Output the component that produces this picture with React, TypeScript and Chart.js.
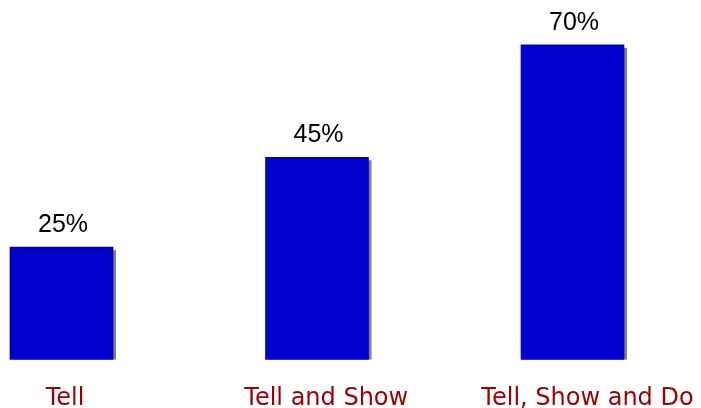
import React, { useEffect, useRef } from "react";
import { Chart, registerables } from "chart.js";

Chart.register(...registerables);

const categories: string[] = ["Tell", "Tell and Show", "Tell, Show and Do"];
const values: number[] = [25, 45, 70];
const valueLabels: string[] = ["25%", "45%", "70%"];

const BAR_COLOR = "#0000CC";
const SHADOW_COLOR = "#808080";
const CAT_COLOR = "#990000";

const decorPlugin = {
  id: "decor",
  beforeDatasetsDraw(chart: any) {
    const ctx = chart.ctx;
    const meta = chart.getDatasetMeta(0);
    ctx.save();
    ctx.fillStyle = SHADOW_COLOR;
    meta.data.forEach((bar: any) => {
      const { x, y, base, width } = bar.getProps(["x", "y", "base", "width"], true);
      ctx.fillRect(x - width / 2 + 3, y + 3, width, base - y - 3);
    });
    ctx.restore();
  },
  afterDatasetsDraw(chart: any) {
    const ctx = chart.ctx;
    const meta = chart.getDatasetMeta(0);
    ctx.save();
    ctx.fillStyle = "#000000";
    ctx.font = '25px "Liberation Sans", Arial, sans-serif';
    ctx.textAlign = "center";
    ctx.textBaseline = "alphabetic";
    meta.data.forEach((bar: any, i: number) => {
      const { x, y } = bar.getProps(["x", "y"], true);
      ctx.fillText(valueLabels[i], x + 1.5, y - 15);
    });
    ctx.restore();
  },
};

export default function App() {
  const canvasRef = useRef<HTMLCanvasElement | null>(null);

  useEffect(() => {
    document.body.style.margin = "0";
    const canvas = canvasRef.current;
    if (!canvas) return;
    const chart = new Chart(canvas, {
      type: "bar",
      data: {
        datasets: [
          {
            data: values.map((v, i) => ({ x: i, y: v })),
            backgroundColor: BAR_COLOR,
            borderWidth: 0,
            barThickness: 103,
            clip: false as any,
            xAxisID: "x",
            yAxisID: "y",
          },
        ],
      },
      options: {
        animation: false,
        responsive: false,
        maintainAspectRatio: false,
        devicePixelRatio: 1,
        layout: { padding: { left: 65, right: 113.5, top: 0, bottom: 0 } },
        plugins: {
          legend: { display: false },
          tooltip: { enabled: false },
        },
        scales: {
          x: {
            type: "linear",
            display: false,
            offset: false,
            min: 0.0137,
            max: 2.0587,
          },
          x2: {
            type: "category",
            labels: categories,
            position: "bottom",
            offset: false,
            grid: { display: false, drawTicks: false },
            border: { display: false },
            ticks: {
              color: CAT_COLOR,
              font: { family: '"DejaVu Sans", sans-serif', size: 24 },
              padding: 25,
              maxRotation: 0,
              autoSkip: false,
            },
            afterFit(scale: any) {
              scale.height = 48.5;
              scale.paddingLeft = 0;
              scale.paddingRight = 0;
            },
          },
          y: {
            type: "linear",
            display: false,
            min: 0,
            max: 80,
          },
        },
      },
      plugins: [decorPlugin],
    });
    return () => chart.destroy();
  }, []);

  return (
    <div style={{ width: 701, height: 408 }}>
      <canvas ref={canvasRef} width={701} height={408} style={{ width: 701, height: 408, display: "block" }} />
    </div>
  );
}
